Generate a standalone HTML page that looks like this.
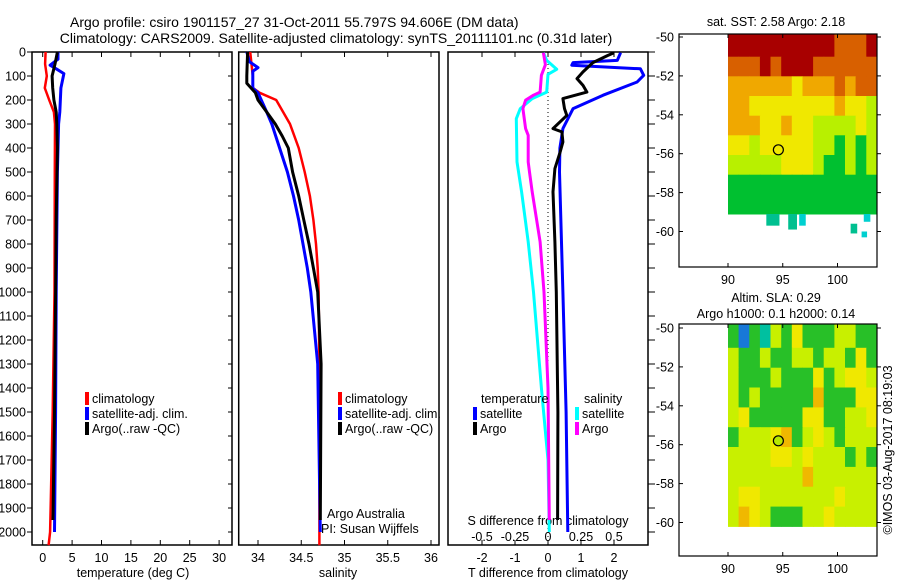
<!DOCTYPE html>
<html><head><meta charset="utf-8"><style>
body{margin:0;background:#fff;}
svg text{font-family:"Liberation Sans",sans-serif;font-size:12.5px;fill:#000;}
</style></head><body>
<svg id="s" width="900" height="580" viewBox="0 0 900 580" xmlns="http://www.w3.org/2000/svg">
<text x="70" y="27" style="font-size:14px">Argo profile: csiro 1901157_27 31-Oct-2011 55.797S 94.606E (DM data)</text>
<text x="336" y="43" text-anchor="middle" style="font-size:14px">Climatology: CARS2009. Satellite-adjusted climatology: synTS_20111101.nc (0.31d later)</text>
<g id="g"></g>
</svg>
<script>
// ---- data ----
const depthTicks=[0,100,200,300,400,500,600,700,800,900,1000,1100,1200,1300,1400,1500,1600,1700,1800,1900,2000];
const tempTicks=[0,5,10,15,20,25,30];
const salTicks=[34,34.5,35,35.5,36];
const tdiffTicks=[-2,-1,0,1,2];
const sdiffTicks=[-0.5,-0.25,0,0.25,0.5];
const tClimD=[0,50,100,150,200,250,300,500,1000,1500,1850,2000,2055];
const tClimV=[0.5,0.4,0.7,0.35,1.1,1.9,2.1,2.05,2.0,1.7,1.4,1.25,1.0];
const tArgoD=[0,50,100,150,200,250,300,400,700,1000,1500,1950];
const tArgoV=[2.5,2.1,1.6,1.7,1.9,2.3,2.4,2.5,2.3,2.2,2.0,1.75];
const tSatD=[0,30,55,70,90,150,250,300,500,1000,1500,2000];
const tSatV=[2.6,2.6,1.25,2.3,3.6,3.1,2.9,2.7,2.5,2.3,2.2,2.0];
const sClimD=[0,100,150,170,200,250,300,400,500,600,700,800,900,1000,1300,2055];
const sClimV=[33.91,33.94,33.94,34.02,34.21,34.29,34.37,34.47,34.54,34.60,34.64,34.67,34.69,34.70,34.71,34.71];
const sArgoD=[0,100,130,170,200,250,300,350,400,500,600,700,800,900,1000,1300,1950];
const sArgoV=[33.88,33.87,33.87,33.97,34.0,34.1,34.2,34.28,34.35,34.40,34.47,34.53,34.59,34.64,34.69,34.73,34.72];
const sSatD=[0,40,65,80,150,170,250,300,400,500,600,700,800,900,1000,1300,2000];
const sSatV=[33.87,33.90,34.0,33.94,33.94,34.0,34.1,34.16,34.25,34.34,34.41,34.47,34.52,34.57,34.61,34.69,34.72];
const dtSatD=[3,35,44,55,70,97,125,180,236,319,400,500,1000,1500,2000];
const dtSatV=[2.2,2.1,0.76,0.72,2.8,2.9,2.7,1.67,0.76,0.45,0.36,0.35,0.45,0.55,0.6];
const dtArgoD=[3,15,44,83,111,139,167,194,236,264,319,333,375,420,486,583,791,1000,1500,1950];
const dtArgoV=[2.0,1.8,1.36,1.06,0.88,1.06,1.18,0.45,0.5,0.57,0.15,0.42,0.45,0.36,0.21,0.15,0.21,0.25,0.3,0.29];
const dsSatD=[3,35,72,93,167,194,236,278,458,583,791,1000,1400,1700,2000];
const dsSatV=[-0.035,-0.01,0.066,0,-0.01,-0.12,-0.21,-0.24,-0.235,-0.2,-0.15,-0.11,-0.05,0,0.01];
const dsArgoD=[3,53,97,167,180,201,236,319,347,458,500,583,791,1000,1400,1950];
const dsArgoV=[-0.035,-0.02,-0.05,-0.06,-0.11,-0.17,-0.19,-0.17,-0.15,-0.15,-0.14,-0.12,-0.06,-0.03,0,0.01];
const sstGrid=[
[5,5,5,5,5,5,5,5,5,5,4,4,4,5],
[4,4,4,5,4,5,5,5,4,4,4,4,4,4],
[3,3,3,3,3,3,2,3,3,3,4,3,4,4],
[3,3,2,2,2,2,2,2,2,2,3,2,2,1],
[3,3,3,2,2,3,2,2,1,1,1,1,2,1],
[2,2,1,2,2,2,2,2,1,1,0,1,0,1],
[1,1,1,1,1,2,2,2,1,0,0,1,0,1],
[0,0,0,0,0,0,0,0,0,0,0,0,0,0],
[0,0,0,0,0,0,0,0,0,0,0,0,0,0]];
const slaGrid=[
[0,-3,0,-1,1,0,2,0,0,0,1,1,0,0],
[1,0,0,1,0,0,1,1,0,1,1,0,2,0],
[1,0,0,0,1,0,0,0,2,0,1,2,2,1],
[1,0,1,0,0,0,0,0,3,0,0,0,2,2],
[1,2,0,0,0,0,0,2,2,0,0,1,1,2],
[0,1,1,1,2,3,0,1,2,1,0,1,1,1],
[1,1,1,1,2,2,1,2,1,1,1,0,1,0],
[1,1,1,1,1,1,1,3,1,1,1,1,1,1],
[1,2,2,1,1,1,1,1,1,1,2,1,1,1],
[1,3,2,1,0,0,0,1,1,2,1,1,1,1]];
const mapLonTicks=[90,95,100];
const mapLatTicks=[-50,-52,-54,-56,-58,-60];

// ---- drawing ----
const NS='http://www.w3.org/2000/svg';
const G=document.getElementById('g');
function mk(tag,at,name,parent){const e=document.createElementNS(NS,tag);for(const k in at)e.setAttribute(k,at[k]);


(parent||G).appendChild(e);return e;}
function txt(x,y,s,name,anchor,fill){const t=mk('text',{x:x,y:y,'text-anchor':anchor||'start'},name);if(fill)t.setAttribute('fill',fill);t.textContent=s;return t;}
const TOP=52,BOT=545;
const yD=d=>TOP+d*0.24;
const xT=v=>42.7+v*5.88;
const xS=v=>258+(v-34)*86.5;
const xDT=v=>548+v*33;
const xDS=v=>548+v*132;
function line(ds,vs,fx,col,w,name){let p=ds.map((d,i)=>fx(vs[i]).toFixed(1)+','+yD(d).toFixed(1)).join(' ');
mk('polyline',{points:p,fill:'none',stroke:col,'stroke-width':w,'stroke-linejoin':'round'},name);}
function frame(x0,x1,name){mk('rect',{x:x0,y:TOP,width:x1-x0,height:BOT-TOP,fill:'none',stroke:'#000','stroke-width':1.5},name);}
function xticks(ticks,fx,y,fmt,name){ticks.forEach(t=>{const x=fx(t);
mk('line',{x1:x,x2:x,y1:TOP,y2:TOP+5,stroke:'#000'},name+'-top-tick');
mk('line',{x1:x,x2:x,y1:BOT,y2:BOT-5,stroke:'#000'},name+'-bottom-tick');
txt(x,y,fmt?fmt(t):String(t),name+'-label','middle');});}
frame(32,232,'temperature-panel');frame(238.7,439,'salinity-panel');frame(448,648,'difference-panel');
depthTicks.forEach(d=>{const y=yD(d);
mk('line',{x1:27,x2:32,y1:y,y2:y,stroke:'#000'},'depth-tick');
mk('line',{x1:228,x2:232,y1:y,y2:y,stroke:'#000'},'depth-tick-right');
mk('line',{x1:648,x2:655,y1:y,y2:y,stroke:'#000'},'diff-depth-tick');
txt(26,y+4.5,String(d),'depth-tick-label','end');});
xticks(tempTicks,xT,562,null,'temperature');
xticks(salTicks,xS,562,null,'salinity');
xticks(tdiffTicks,xDT,562,null,'t-diff');
sdiffTicks.forEach(t=>txt(xDS(t),541,String(t),'s-diff-tick-label','middle'));
txt(133,577,'temperature (deg C)','temperature-axis-title','middle');
txt(338,577,'salinity','salinity-axis-title','middle');
txt(548,577,'T difference from climatology','t-diff-axis-title','middle');
txt(548,525,'S difference from climatology','s-diff-axis-title','middle');
mk('line',{x1:548,x2:548,y1:TOP,y2:BOT,stroke:'#000','stroke-dasharray':'1,3'},'zero-line');
line(tClimD,tClimV,xT,'#f00',2.5,'temp-climatology-line');
line(tSatD,tSatV,xT,'#00f',3,'temp-satellite-line');
line(tArgoD,tArgoV,xT,'#000',3,'temp-argo-line');
line(sClimD,sClimV,xS,'#f00',2.5,'sal-climatology-line');
line(sSatD,sSatV,xS,'#00f',3,'sal-satellite-line');
line(sArgoD,sArgoV,xS,'#000',3,'sal-argo-line');
line(dsSatD,dsSatV,xDS,'#0ff',3,'sdiff-satellite-line');
line(dsArgoD,dsArgoV,xDS,'#f0f',3,'sdiff-argo-line');
line(dtSatD,dtSatV,xDT,'#00f',3,'tdiff-satellite-line');
line(dtArgoD,dtArgoV,xDT,'#000',3,'tdiff-argo-line');
function leg(x,y,col,s,name){mk('rect',{x:x,y:y-11,width:4,height:13,fill:col},name+'-swatch');txt(x+7,y,s,name);}
[[85,'#f00','climatology'],[85,'#00f','satellite-adj. clim.'],[85,'#000','Argo(..raw -QC)']].forEach((e,i)=>leg(e[0],403+i*15,e[1],e[2],'temp-legend-entry'));
[[338,'#f00','climatology'],[338,'#00f','satellite-adj. clim.'],[338,'#000','Argo(..raw -QC)']].forEach((e,i)=>leg(e[0],403+i*15,e[1],e[2],'sal-legend-entry'));
txt(481,403,'temperature','temp-legend-heading');txt(584,403,'salinity','sal-legend-heading');
leg(473,418,'#00f','satellite','tdiff-legend-satellite');leg(473,433,'#000','Argo','tdiff-legend-argo');
leg(575,418,'#0ff','satellite','sdiff-legend-satellite');leg(575,433,'#f0f','Argo','sdiff-legend-argo');
txt(327,518,'Argo Australia','credit-line-1');txt(321,533,'PI: Susan Wijffels','credit-line-2');

const lonX=l=>728+(l-90)*10.95;
function drawMap(top,bot,lat50y,grid,cmap,latBottom,name){
 const latY=la=>lat50y+(-50-la)*19.45;
 const rows=grid.length,cols=grid[0].length;
 const lonStep=(103.6-90)/cols,latStep=(-50-latBottom)/rows;
 grid.forEach((row,r)=>row.forEach((v,c)=>{const x0=lonX(90+c*lonStep),x1=lonX(90+(c+1)*lonStep);
  const y0=r==0?top:latY(-50-r*latStep),y1=latY(-50-(r+1)*latStep);
  mk('rect',{x:x0.toFixed(1),y:y0.toFixed(1),width:(x1-x0+0.5).toFixed(1),height:(y1-y0+0.5).toFixed(1),fill:cmap[v]},name+'-cell');}));
 mk('rect',{x:679,y:top,width:198,height:bot-top,fill:'none',stroke:'#000','stroke-width':1.2},name+'-frame');
 mapLonTicks.forEach(l=>{const x=lonX(l);mk('line',{x1:x,x2:x,y1:bot,y2:bot-4,stroke:'#000'},name+'-lon-tick');
  mk('line',{x1:x,x2:x,y1:top,y2:top+4,stroke:'#000'},name+'-lon-tick-top');
  txt(x,bot+17,String(l),name+'-lon-label','middle');});
 mapLatTicks.forEach(la=>{const y=latY(la);mk('line',{x1:679,x2:683,y1:y,y2:y,stroke:'#000'},name+'-lat-tick');
  mk('line',{x1:877,x2:881,y1:y,y2:y,stroke:'#000'},name+'-lat-tick-right');
  txt(674,y+4.5,String(la),name+'-lat-label','end');});
 return latY;
}
const sstMap={5:'#a80000',4:'#d86000',3:'#f0a800',2:'#f0e800',1:'#b8f000',0:'#00c030'};
const slaMap={'-3':'#1878d8','-1':'#00c0a0',0:'#28c028',1:'#c8f000',2:'#f0e800',3:'#f0b800'};
const ly1=drawMap(34,267,37,sstGrid,sstMap,-59.1,'sst-map');
[[93.5,-59.1,1.2,0.6,'#00c090'],[95.5,-59.1,0.8,0.8,'#00c090'],[96.5,-59.1,0.6,0.6,'#00d0d0'],[101.2,-59.6,0.6,0.5,'#00c090'],[102.2,-60,0.5,0.3,'#00d0d0'],[102.4,-59.1,0.6,0.4,'#00d0d0']].forEach(b=>{
 mk('rect',{x:lonX(b[0]),y:ly1(b[1]),width:b[2]*10.95,height:b[3]*19.45,fill:b[4]},'sst-map-ice-cell');});
mk('circle',{cx:lonX(94.6),cy:ly1(-55.8),r:5,fill:'none',stroke:'#000','stroke-width':1.2},'sst-argo-marker');
txt(776,26,'sat. SST: 2.58 Argo: 2.18','sst-map-title','middle');
const ly2=drawMap(324,556,328,slaGrid,slaMap,-60.2,'sla-map');
mk('circle',{cx:lonX(94.6),cy:ly2(-55.8),r:5,fill:'#b8e800',stroke:'#000','stroke-width':1.2},'sla-argo-marker');
txt(776,302,'Altim. SLA: 0.29','sla-map-title-1','middle');
txt(776,318,'Argo h1000: 0.1 h2000: 0.14','sla-map-title-2','middle');
const r=txt(0,0,'©IMOS 03-Aug-2017 08:19:03','timestamp','middle');
r.setAttribute('transform','translate(892,450) rotate(-90)');
</script>
</body></html>
